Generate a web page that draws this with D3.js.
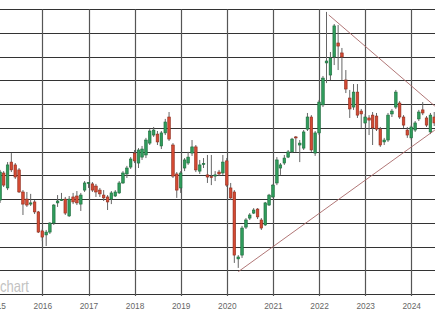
<!DOCTYPE html>
<html><head><meta charset="utf-8">
<script src="https://cdn.jsdelivr.net/npm/d3@7"></script>
<style>html,body{margin:0;padding:0;background:#fff;}svg{display:block;}</style>
</head><body>
<svg id="c" width="435" height="316"></svg>
<script>
const months = ("2015-02 2015-03 2015-04 2015-05 2015-06 2015-07 2015-08 2015-09 2015-10 2015-11 2015-12 " +
"2016-01 2016-02 2016-03 2016-04 2016-05 2016-06 2016-07 2016-08 2016-09 2016-10 2016-11 2016-12 " +
"2017-01 2017-02 2017-03 2017-04 2017-05 2017-06 2017-07 2017-08 2017-09 2017-10 2017-11 2017-12 " +
"2018-01 2018-02 2018-03 2018-04 2018-05 2018-06 2018-07 2018-08 2018-09 2018-10 2018-11 2018-12 " +
"2019-01 2019-02 2019-03 2019-04 2019-05 2019-06 2019-07 2019-08 2019-09 2019-10 2019-11 2019-12 " +
"2020-01 2020-02 2020-03 2020-04 2020-05 2020-06 2020-07 2020-08 2020-09 2020-10 2020-11 2020-12 " +
"2021-01 2021-02 2021-03 2021-04 2021-05 2021-06 2021-07 2021-08 2021-09 2021-10 2021-11 2021-12 " +
"2022-01 2022-02 2022-03 2022-04 2022-05 2022-06 2022-07 2022-08 2022-09 2022-10 2022-11 2022-12 " +
"2023-01 2023-02 2023-03 2023-04 2023-05 2023-06 2023-07 2023-08 2023-09 2023-10 2023-11 2023-12 " +
"2024-01 2024-02 2024-03 2024-04 2024-05 2024-06 2024-07").split(" ");

const openV = [39.6,51.0,44.7,55.6,54.4,52.3,43.0,40.0,37.9,38.8,34.6,
26.6,24.9,26.1,29.9,38.4,39.6,40.0,32.9,40.9,41.3,37.9,43.8,
46.8,46.4,45.5,43.8,41.7,40.9,40.0,41.3,42.6,46.8,50.6,53.5,
59.4,55.2,57.7,58.6,63.6,67.0,67.4,62.4,67.9,74.6,62.8,50.6,
44.7,53.1,55.2,59.4,62.0,51.8,54.8,50.2,49.5,49.7,51.4,51.0,
56.1,44.7,43.0,14.8,16.4,28.2,32.0,34.1,35.8,31.2,29.1,37.5,
40.9,46.8,53.1,55.2,57.7,59.9,66.2,62.8,61.5,69.5,74.6,59.4,
67.9,79.7,97.4,92.3,99.9,105.8,101.6,90.2,82.6,78.8,85.1,77.1,
72.1,74.2,75.4,75.0,69.5,64.1,64.9,75.9,78.8,80.5,74.6,69.1,
65.8,69.1,73.8,77.6,74.2,68.3,74.6];

const highV = [52.3,51.8,55.6,59.4,55.2,53.1,43.8,43.0,42.2,39.6,35.0,
27.4,27.0,30.3,37.9,41.7,42.6,40.9,41.3,42.6,43.4,42.6,47.6,
47.2,47.2,46.4,44.7,43.8,41.7,43.4,43.8,47.6,51.8,54.0,57.7,
60.7,61.5,62.4,65.8,69.5,70.4,68.7,68.7,73.8,76.7,63.6,51.4,
51.8,57.3,59.9,64.9,62.8,56.5,57.3,58.6,58.6,51.8,52.3,58.6,
57.3,46.8,43.8,16.4,28.7,32.0,34.1,36.2,36.2,32.0,38.8,42.2,
46.4,57.7,55.2,58.6,60.7,65.8,66.6,64.9,69.1,76.3,75.4,68.7,
81.8,91.9,118.9,102.0,113.8,113.4,103.7,94.4,86.0,88.5,88.5,78.0,
75.9,75.4,76.7,76.3,70.4,65.8,76.3,78.0,86.0,81.3,75.4,70.4,
71.2,72.9,77.6,80.9,75.0,76.3,76.7];

const lowV = [38.4,45.1,43.8,51.4,48.5,42.6,33.3,36.7,37.1,33.7,25.7,
22.3,20.2,25.3,29.1,36.7,39.2,33.3,32.5,37.9,37.5,35.0,43.0,
44.7,43.0,40.9,40.9,39.2,35.4,37.9,40.9,42.2,46.4,48.9,52.7,
55.2,53.1,56.5,57.3,62.8,66.2,62.8,61.1,67.0,64.5,48.9,40.5,
42.6,51.8,54.4,58.2,51.4,50.6,53.1,46.8,45.9,47.6,49.7,50.2,
45.1,39.6,13.1,11.0,15.2,27.4,31.2,33.7,31.6,27.0,28.7,37.1,
40.5,45.9,50.2,54.4,57.3,59.4,59.9,55.6,60.7,68.7,59.9,58.2,
67.0,78.8,88.9,90.2,96.5,94.4,90.2,84.7,74.2,77.6,74.2,70.0,
71.7,67.0,62.8,68.7,62.0,62.8,64.1,74.6,78.0,73.8,70.0,65.8,
64.9,68.3,72.9,75.4,70.4,67.4,70.8];

const closeV = [51.4,45.9,54.4,52.3,49.3,43.0,37.9,37.5,38.4,34.6,26.1,
24.0,26.1,29.9,37.5,39.2,39.8,34.1,40.0,38.8,38.4,41.7,46.8,
47.0,43.8,43.0,42.2,40.5,38.8,42.6,43.0,46.8,51.0,53.1,56.9,
56.1,60.7,61.1,64.9,68.7,69.1,64.1,67.9,72.5,65.3,49.7,43.8,
51.0,56.5,57.7,62.0,52.3,54.4,55.0,49.3,49.3,50.2,50.6,55.6,
45.9,40.5,16.4,15.6,27.8,31.2,33.3,35.4,32.5,27.8,38.4,41.7,
45.9,56.5,54.4,57.3,59.9,65.3,66.0,63.6,68.3,74.6,60.7,67.9,
80.9,91.0,98.2,99.5,113.0,104.5,99.9,86.4,78.0,85.1,75.4,75.9,
74.6,73.3,70.0,69.5,62.8,64.9,75.4,77.1,85.1,74.6,71.2,67.0,
70.4,72.1,76.7,76.3,71.2,75.4,72.1];

const yTicks = [0,10,20,30,40,50,60,70,80,90,100,110,120];
const yearTicks = ["2015","2016","2017","2018","2019","2020","2021","2022","2023","2024"];
// triangle trend lines: [date, price]
const upperLine = [["2022-03-19",117.6],["2024-07-06",79.2]];
const lowerLine = [["2020-04-01",9.4],["2024-07-06",69.1]];
const watermark = "chart";

const svg = d3.select("#c");
const parseM = d3.timeParse("%Y-%m");
const parseD = d3.timeParse("%Y-%m-%d");
const parseY = d3.timeParse("%Y");

const x = d3.scaleTime().domain([new Date(2015,0,1), new Date(2025,0,1)]).range([-3.8, 457.45]);
const y = d3.scaleLinear().domain([0,120]).range([294, 9.3]);

// grid
const g = svg.append("g");
g.selectAll("line.h").data(yTicks).join("line")
  .attr("x1",0).attr("x2",435)
  .attr("y1",d=>Math.round(y(d))+0.5).attr("y2",d=>Math.round(y(d))+0.5)
  .attr("stroke","#333").attr("stroke-width",1);
g.selectAll("line.v").data(yearTicks.map(parseY)).join("line")
  .attr("x1",d=>Math.round(x(d))+0.5).attr("x2",d=>Math.round(x(d))+0.5)
  .attr("y1",y(120)).attr("y2",296)
  .attr("stroke","#555").attr("stroke-width",1.2);

// x axis labels
const ax = svg.append("g").attr("transform","translate(0,294)")
  .call(d3.axisBottom(x).tickValues(yearTicks.map(parseY)).tickFormat(d3.timeFormat("%Y")).tickSize(0).tickPadding(8));
ax.select(".domain").remove();
ax.selectAll("text").attr("font-family","'Liberation Sans', Arial, sans-serif").attr("font-size","9.5px")
  .attr("fill","#666").attr("textLength",18.5).attr("lengthAdjust","spacingAndGlyphs");

// watermark
svg.append("text").attr("x",0).attr("y",292).text(watermark)
  .attr("font-family","'Liberation Sans', Arial, sans-serif").attr("font-size","16.5px")
  .attr("fill","#c2c2c2").attr("textLength",29).attr("lengthAdjust","spacingAndGlyphs");

// candles
const data = months.map((m,i)=>({d:parseM(m),o:openV[i],h:highV[i],l:lowV[i],c:closeV[i]}));
const bw = 2.6;
const cg = svg.append("g");
cg.selectAll("line.w").data(data).join("line")
  .attr("x1",d=>x(d.d)).attr("x2",d=>x(d.d))
  .attr("y1",d=>y(d.h)).attr("y2",d=>y(d.l))
  .attr("stroke","#666").attr("stroke-width",1);
cg.selectAll("rect").data(data).join("rect")
  .attr("x",d=>x(d.d)-bw/2).attr("width",bw)
  .attr("y",d=>y(Math.max(d.o,d.c)))
  .attr("height",d=>Math.max(1,Math.abs(y(d.o)-y(d.c))))
  .attr("fill",d=>d.c>=d.o?"#2f9c5c":"#d44a33")
  .attr("stroke",d=>d.c>=d.o?"#1c6b3a":"#8f2c1d").attr("stroke-width",0.6);

// trend lines
const line = d3.line().x(p=>x(parseD(p[0]))).y(p=>y(p[1]));
[upperLine, lowerLine].forEach(L=>{
  svg.append("path").attr("d",line(L)).attr("fill","none").attr("stroke","#a86868").attr("stroke-width",0.9);
});
</script>
</body></html>
